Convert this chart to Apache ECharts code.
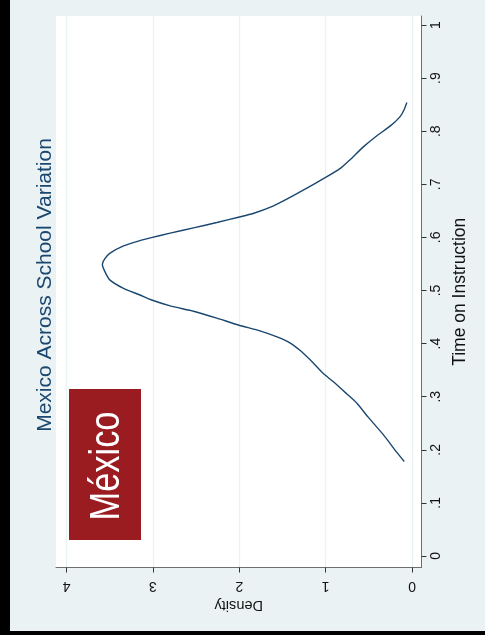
<!DOCTYPE html>
<html>
<head>
<meta charset="utf-8">
<script src="https://cdn.jsdelivr.net/npm/echarts@6/dist/echarts.min.js"></script>
<style>
html,body{margin:0;padding:0;background:#000;width:485px;height:635px;overflow:hidden;}
#chart{position:absolute;left:10px;top:0;width:475px;height:631px;}
</style>
</head>
<body>
<div id="chart"></div>
<script>
// Kernel density curve (time on instruction -> density)
const timeValues = [0.178,0.196,0.228,0.262,0.288,0.306,0.328,0.344,0.363,0.385,0.401,0.413,0.424,0.435,0.448,0.461,0.471,0.483,0.4915,0.504,0.520,0.537,0.549,0.559,0.570,0.584,0.594,0.599,0.608,0.618,0.628,0.638,0.645,0.659,0.672,0.687,0.712,0.730,0.746,0.771,0.791,0.810,0.827,0.841,0.854];
const densityValues = [0.09,0.18,0.33,0.51,0.64,0.76,0.91,1.03,1.14,1.28,1.41,1.57,1.76,2.01,2.26,2.53,2.80,3.03,3.15,3.34,3.50,3.56,3.585,3.56,3.50,3.34,3.15,3.03,2.80,2.53,2.26,2.01,1.84,1.61,1.45,1.28,1.01,0.83,0.72,0.56,0.41,0.25,0.14,0.09,0.06];
const timeTicks = [0,0.1,0.2,0.3,0.4,0.5,0.6,0.7,0.8,0.9,1];
const timeTickLabels = ['0','.1','.2','.3','.4','.5','.6','.7','.8','.9','1'];
const densityTicks = [0,1,2,3,4];
const densityTickLabels = ['0','1','2','3','4'];
const titleText = 'Mexico Across School Variation';
const badgeText = 'México';
const xName = 'Time on Instruction';
const yName = 'Density';

const seriesData = timeValues.map((t, i) => [densityValues[i], t]);
const FONT = '"Liberation Sans", Arial, Helvetica, sans-serif';

const chart = echarts.init(document.getElementById('chart'));
chart.setOption({
  backgroundColor: '#eaf2f3',
  animation: false,
  grid: {
    left: 46, top: 16, right: 63.5, bottom: 63.5,
    show: true, backgroundColor: '#ffffff', borderWidth: 0
  },
  xAxis: {
    type: 'value', inverse: true, position: 'bottom',
    min: -0.11, max: 4.122,
    axisLine: { show: true, onZero: false, lineStyle: { color: '#6e6e6e', width: 1 } },
    axisTick: { show: true, length: 5, customValues: densityTicks, lineStyle: { color: '#333', width: 1 } },
    axisLabel: {
      customValues: densityTicks, rotate: 180, margin: 11,
      fontSize: 14, color: '#111', fontFamily: FONT,
      formatter: v => densityTickLabels[densityTicks.indexOf(v)]
    },
    splitLine: { show: true, lineStyle: { color: '#eaf2f3', width: 1.3 } },
    name: yName, nameLocation: 'middle', nameRotate: 180, nameGap: 27,
    nameTextStyle: { fontSize: 14.5, color: '#111', fontFamily: FONT }
  },
  yAxis: {
    type: 'value', position: 'right',
    min: -0.0217, max: 1.017,
    axisLine: { show: true, onZero: false, lineStyle: { color: '#6e6e6e', width: 1 } },
    axisTick: { show: true, length: 5, customValues: timeTicks, lineStyle: { color: '#333', width: 1 } },
    axisLabel: {
      customValues: timeTicks, rotate: 90, margin: 7.5,
      fontSize: 14, color: '#111', fontFamily: FONT,
      formatter: v => timeTickLabels[timeTicks.indexOf(v)]
    },
    splitLine: { show: false },
    name: xName, nameLocation: 'middle', nameRotate: 90, nameGap: 28,
    nameTextStyle: { fontSize: 17.5, color: '#111', fontFamily: FONT }
  },
  series: [{
    type: 'line',
    data: seriesData,
    showSymbol: false,
    smooth: 0.2,
    lineStyle: { color: '#1a476f', width: 1.4 },
    z: 5
  }],
  graphic: [
    {
      type: 'text', left: null, x: 35, y: 285, rotation: Math.PI / 2,
      style: { text: titleText, fill: '#1a476f', font: '21px ' + FONT, align: 'center', verticalAlign: 'middle' },
      z: 10
    },
    {
      type: 'rect', x: 59, y: 389, shape: { width: 72, height: 151 },
      style: { fill: '#9a1c20' }, z: 10
    },
    {
      type: 'text', x: 97, y: 466, rotation: Math.PI / 2, scaleX: 0.8,
      style: { text: badgeText, fill: '#ffffff', font: '43px ' + FONT, align: 'center', verticalAlign: 'middle' },
      z: 11
    }
  ]
});
</script>
</body>
</html>
